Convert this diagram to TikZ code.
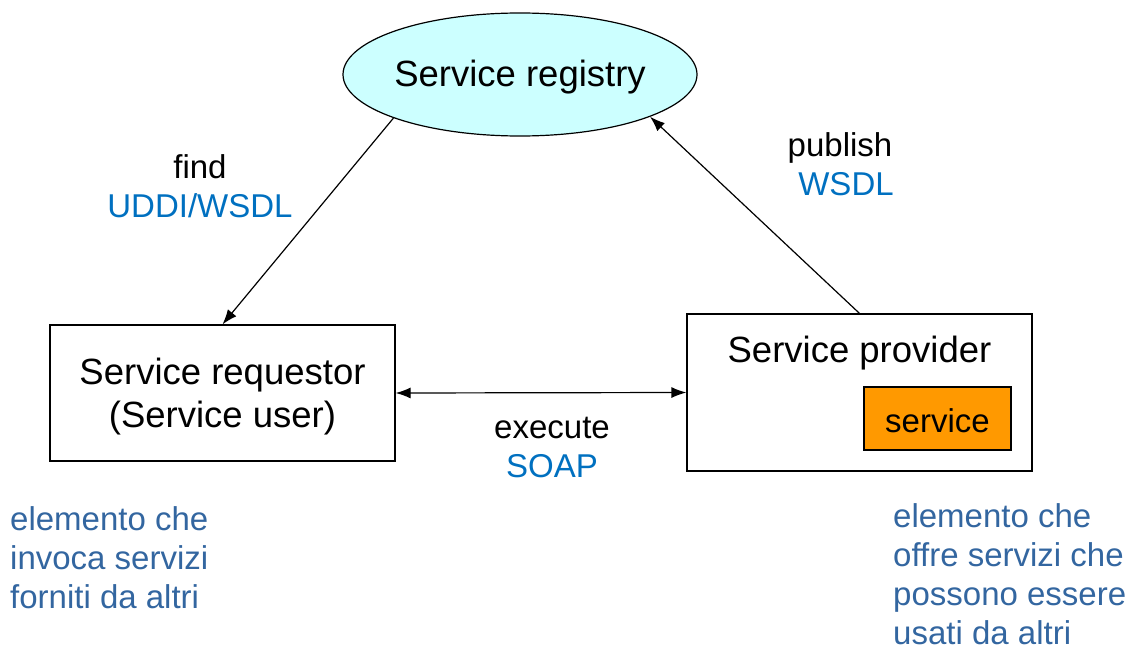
\documentclass[tikz,border=0pt]{standalone}
\usepackage{fontspec}
\setmainfont{Liberation Sans}
\usetikzlibrary{shapes.geometric,arrows.meta}
\definecolor{regfill}{HTML}{CCFFFF}
\definecolor{svcfill}{HTML}{FF9900}
\definecolor{proto}{HTML}{0070C0}
\definecolor{note}{RGB}{51,102,160}
\tikzset{
  big/.style={font=\fontsize{36.5}{43}\selectfont},
  mid/.style={font=\fontsize{33}{39}\selectfont},
  box/.style={draw, line width=1.2pt, inner sep=0pt},
  txt/.style={big, inner sep=0pt, align=center},
  link/.style={line width=1.2pt, -{Latex[length=15pt,width=11pt]}},
  lbl/.style={mid, inner sep=0pt, align=center},
  remark/.style={mid, inner sep=0pt, align=left, text=note, anchor=north west}
}
\begin{document}
\begin{tikzpicture}[x=1pt,y=-1pt]
\useasboundingbox (0,0) rectangle (1132,650);

% shapes
\node[box, ellipse, fill=regfill, minimum width=354pt, minimum height=123pt] (reg) at (520,74.5) {};
\node[box, minimum width=345pt, minimum height=136pt] (req) at (222.5,393) {};
\node[box, minimum width=345pt, minimum height=157pt] (prov) at (859.5,392.5) {};
\node[box, fill=svcfill, minimum width=147pt, minimum height=63pt] (svc) at (937.5,418.5) {};

% texts inside the shapes
\node[txt] (regt) at (520,77.5) {Service registry};
\node[txt] (reqt) at (222.5,397) {Service requestor\\(Service user)};
\node[txt] (provt) at (859.5,353) {Service provider};
\node[lbl] (svct) at (937.5,421) {service};

% connectors
\draw[link] (reg.199) -- (req.north);
\draw[link] (prov.north) -- (reg.-18);
\draw[line width=1.2pt, {Latex[length=15pt,width=11pt]}-{Latex[length=15pt,width=11pt]}] (req.east) -- (prov.west);

% labels
\node[lbl] (findl) at (200,186) {find\\\textcolor{proto}{UDDI/WSDL}};
\node[lbl] (publ) at (840,164) {publish\\\hspace*{12pt}\textcolor{proto}{WSDL}};
\node[lbl] (execl) at (552,447) {execute\\\textcolor{proto}{SOAP}};

% remarks
\node[remark] (noteL) at (10,506) {elemento che\\invoca servizi\\forniti da altri};
\node[remark] (noteR) at (893,503) {elemento che\\offre servizi che\\possono essere\\usati da altri};
\end{tikzpicture}
\end{document}
